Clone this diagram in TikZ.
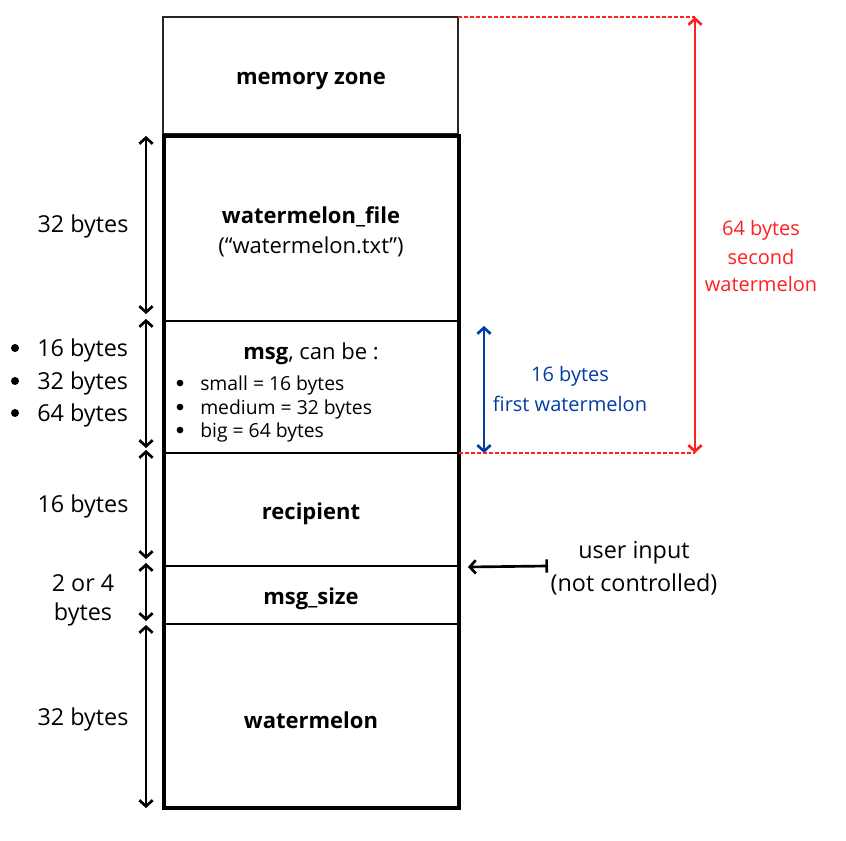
\documentclass[tikz,border=0pt]{standalone}
\usepackage{fontspec}
\setmainfont{Open Sans}
\usetikzlibrary{arrows.meta}
\definecolor{myred}{RGB}{255,32,32}
\definecolor{myblue}{RGB}{0,61,165}
\begin{document}
\begin{tikzpicture}[x=0.75pt,y=-0.75pt,
  side/.style={font=\fontsize{17.5}{24}\selectfont, align=center, inner sep=0pt, yshift=-2.2pt},
  title/.style={font=\fontsize{16.5}{22}\selectfont\bfseries, inner sep=0pt, yshift=-2.2pt},
  sub/.style={font=\fontsize{16.5}{22}\selectfont, inner sep=0pt, yshift=-2.2pt},
  lst/.style={font=\fontsize{14.5}{18}\selectfont, inner sep=0pt, anchor=west, yshift=-1.5pt},
  bul/.style={circle, fill=black, inner sep=0pt, minimum size=5pt},
  bigbul/.style={circle, fill=black, inner sep=0pt, minimum size=6pt},
  dim/.style={line width=2pt, {Straight Barb[length=4.5pt,width=10pt]}-{Straight Barb[length=4.5pt,width=10pt]}},
  note/.style={font=\fontsize{15}{20}\selectfont, align=center, inner sep=0pt, yshift=-2pt}]
\useasboundingbox (0,0) rectangle (846,841);
% coordinates
\coordinate (mzTL) at (163,17); \coordinate (mzBR) at (458,134);
\coordinate (stTL) at (164,136); \coordinate (stBR) at (459,808);
\foreach \n/\y in {d1/321,d2/453,d3/566,d4/624}{
  \coordinate (\n L) at (164,\y); \coordinate (\n R) at (459,\y);}
% memory zone
\draw[line width=1pt, black!85] (mzTL) rectangle (mzBR);
\node[title] (mz) at (311,78) {memory zone};
% stack
\draw[line width=2.3pt] (stTL) rectangle (stBR);
\foreach \n in {d1,d2,d3,d4}{\draw[line width=1.8pt] (\n L) -- (\n R);}
% box texts
\node[title] (wf) at (311,214) {watermelon\_file};
\node[sub] (wft) at (311,244) {(“watermelon.txt”)};
\node[sub] (msg) at (311,351) {\textbf{msg}, can be :};
\node[bul] (b1) at (180,383) {}; \node[lst] (l1) at (200,383) {small = 16 bytes};
\node[bul] (b2) at (180,407) {}; \node[lst] (l2) at (200,407) {medium = 32 bytes};
\node[bul] (b3) at (180,430) {}; \node[lst] (l3) at (200,430) {big = 64 bytes};
\node[title] (rc) at (311,511) {recipient};
\node[title] (ms) at (311,596) {msg\_size};
\node[title] (wm) at (311,717) {watermelon};
% left dimension arrows
\foreach \n/\a/\b in {a1/136/314,a2/319/448,a3/450/559,a4/563/621,a5/625/808}{
  \coordinate (\n t) at (146,\a); \coordinate (\n b) at (146,\b);
  \draw[dim] (\n t) -- (\n b);}
% left labels
\node[side] (s1) at (83,224) {32 bytes};
\node[bigbul] (sb1) at (15,348) {}; \node[side, anchor=west] (sl1) at (37,348) {16 bytes};
\node[bigbul] (sb2) at (15,381) {}; \node[side, anchor=west] (sl2) at (37,381) {32 bytes};
\node[bigbul] (sb3) at (15,413) {}; \node[side, anchor=west] (sl3) at (37,413) {64 bytes};
\node[side] (s3) at (83,504) {16 bytes};
\node[side] (s4a) at (83,580) {2 or 4};
\node[side] (s4b) at (83,612) {bytes};
\node[side] (s5) at (83,717) {32 bytes};
% blue arrow
\coordinate (bt) at (484,326); \coordinate (bb) at (484,453);
\draw[dim, myblue] (bt) -- (bb);
\node[note, text=myblue] (bl1) at (570,374) {16 bytes};
\node[note, text=myblue] (bl2) at (570,401) {first watermelon};
% red arrow
\coordinate (rt) at (695,17); \coordinate (rb) at (695,453);
\draw[dim, myred] (rt) -- (rb);
\draw[myred, line width=0.9pt, dash pattern=on 3pt off 1.5pt] (mzBR |- mzTL) -- (rt);
\draw[myred, line width=0.9pt, dash pattern=on 3pt off 1.5pt] (d2R) -- (rb);
\node[note, text=myred] (r1) at (761,228) {64 bytes};
\node[note, text=myred] (r2) at (761,254) {second};
\node[note, text=myred] (r3) at (761,281) {watermelon};
% user input
\coordinate (us) at (548,566); \coordinate (ue) at (468,567);
\draw[line width=2pt, {Straight Barb[length=4.5pt,width=10pt]}-{Bar[width=10pt]}] (ue) -- (us);
\node[side] (u1) at (634,550) {user input};
\node[side] (u2) at (634,582) {(not controlled)};
\end{tikzpicture}
\end{document}
